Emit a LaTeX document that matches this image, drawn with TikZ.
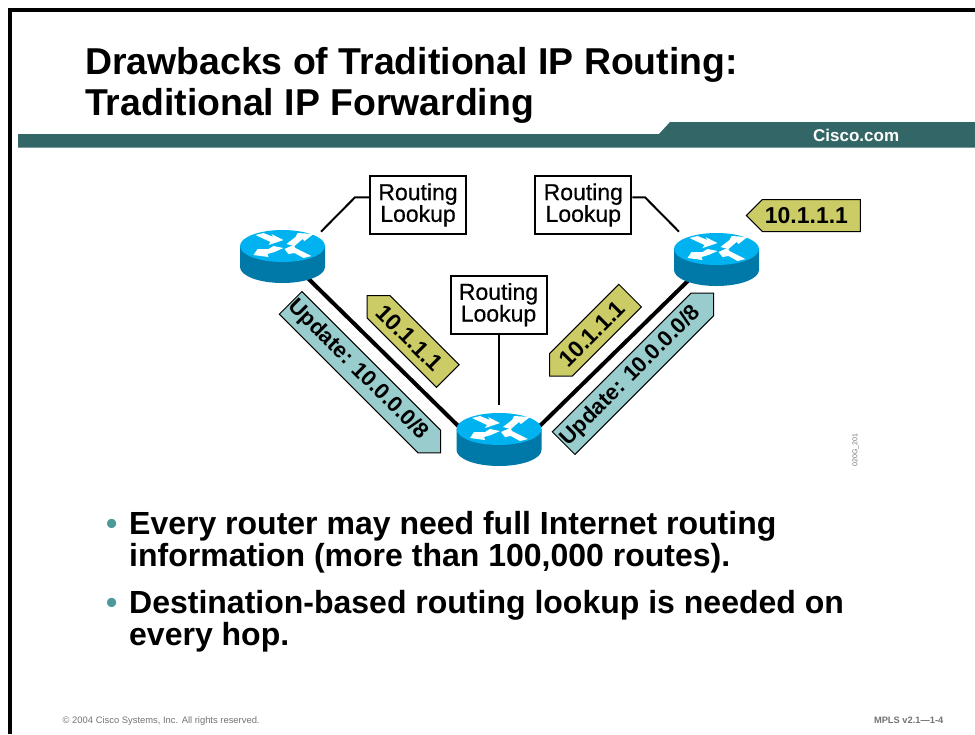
\documentclass[tikz,border=0pt]{standalone}
\usepackage{fontspec}
\setmainfont{Liberation Sans}
\newfontfamily\lookupfont{Liberation Sans}[FakeBold=0.5]
\usetikzlibrary{shapes.geometric,
shapes.symbols,
positioning}
\definecolor{barteal}{HTML}{336666}
\definecolor{bulletteal}{HTML}{4D9999}
\definecolor{routertop}{HTML}{00B2F0}
\definecolor{routerside}{HTML}{0079A8}
\definecolor{tagolive}{HTML}{CCCC66}
\definecolor{tagaqua}{HTML}{99CCCC}
\tikzset{
  % the body of a router, only used to hook the lines on
  routerbody/.style={ellipse,minimum width=85pt,minimum height=54pt,inner sep=0pt},
  lookupbox/.style={draw,line width=2pt,fill=white,minimum width=96pt,minimum height=58pt,
    inner sep=0pt,align=center,font=\fontsize{23}{21.7}\selectfont\lookupfont},
  linkline/.style={line width=4pt},
  stemline/.style={line width=2pt},
  packettag/.style={signal,draw,line width=1pt,signal pointer angle=90,inner sep=0pt,
    minimum height=32pt,font=\fontsize{23}{23}\selectfont\bfseries},
  % the trailing space moves the text along the tag
  addrtag/.style={packettag,fill=tagolive,minimum width=114pt,execute at end node={\hspace*{10pt}}},
  updatetag/.style={packettag,fill=tagaqua,minimum width=212pt,execute at end node={\hspace*{6pt}},
    font=\fontsize{22}{22}\selectfont\bfseries},
  titletext/.style={anchor=base west,inner sep=0pt,font=\fontsize{37.4}{37.4}\selectfont\bfseries},
  bullettext/.style={anchor=base west,inner sep=0pt,font=\fontsize{32}{32}\selectfont\bfseries},
  bulletdot/.style={bullettext,text=bulletteal},
  smalltext/.style={text=black!55,inner sep=0pt,font=\fontsize{9.4}{9.4}\selectfont},
  routerpic/.pic={
    \fill[routerside] (-42.5,0) -- (-42.5,21) arc[x radius=42.5,y radius=16,start angle=180,end angle=0]
      -- (42.5,0) -- cycle;
    \fill[routertop] (0,0) ellipse[x radius=42.5,y radius=16];
    \fill[white] (-27,-11) -- (-19,-13) -- (-9,-9) -- (-11,-12) -- (1,-6) -- (-14,-1) -- (-12,-4) -- cycle;
    \fill[white] (4,-2) -- (13,-9) -- (15,-13) -- (31,-12) -- (22,-5) -- (20,-7) -- (12,0) -- cycle;
    \fill[white] (1,2) -- (-9,0) -- (-14,3) -- (-25,3) -- (-29,9) -- (-14,11) -- (-15,8) -- (-8,6) -- cycle;
    \fill[white] (29,10) -- (21,12) -- (12,7) -- (6,8) -- (2,3) -- (11,-1) -- (13,2) -- cycle;
  },
}
\begin{document}
\begin{tikzpicture}[x=1pt,y=-1pt]
  \useasboundingbox (0,0) rectangle (975,734);
  % slide frame and header bar
  \fill[black] (8,8) rectangle (12,734);
  \fill[black] (8,8) rectangle (975,12);
  \fill[barteal] (18,134) -- (659,134) -- (670,122) -- (975,122) -- (975,147.5) -- (18,147.5) -- cycle;
  \node[titletext] (titleA) at (85,74) {Drawbacks of Traditional IP Routing:};
  \node[titletext] (titleB) at (85,115) {Traditional IP Forwarding};
  \node[anchor=base west,inner sep=0pt,text=white,font=\fontsize{17}{17}\selectfont\bfseries] (cisco) at (813,141.5) {Cisco.com};

  \node[routerbody] (rtA) at (282.5,257) {};
  \node[routerbody] (rtB) at (499,440) {};
  \node[routerbody] (rtC) at (716.5,260) {};
  \node[lookupbox] (lookA) at (418,205) {Routing\\Lookup};
  \node[lookupbox] (lookB) at (498.5,304.7) {Routing\\Lookup};
  \node[lookupbox] (lookC) at (583.3,205) {Routing\\Lookup};
  \coordinate (bendA) at (355,197.3);
  \coordinate (bendC) at (645,197.3);

  \draw[linkline] (rtA.-40) -- (rtB.163);
  \draw[linkline] (rtB.17) -- (rtC.216);
  \draw[stemline] (lookA.west |- bendA) -- (bendA) -- (321,231.7);
  \draw[stemline] (lookC.east |- bendC) -- (bendC) -- (679,231.7);
  \draw[stemline] (lookB.south) -- ++(0,70);

  \pic at (282.5,246) {routerpic};
  \pic at (499,429) {routerpic};
  \pic at (716.5,249) {routerpic};

  \node[updatetag,signal to=east,rotate=-45,anchor=east] (updA) at (441,453.3) {Update: 10.0.0.0/8};
  \node[updatetag,signal to=east,rotate=45,anchor=east] (updC) at (714,292.7) {Update: 10.0.0.0/8};
  \node[addrtag,signal to=west,rotate=-45,anchor=west] (tagA) at (366.7,295) {10.1.1.1};
  \node[addrtag,signal to=west,rotate=45,anchor=west] (tagB) at (549,376.7) {10.1.1.1};
  \node[addrtag,signal to=west,anchor=west] (tagC) at (745.7,215.5) {10.1.1.1};
  \node[smalltext,rotate=90,font=\fontsize{7}{7}\selectfont] (figid) at (855.5,450) {020G\_201};

  \node[bulletdot] (dotA) at (106,534) {•};
  \node[bullettext] (itemA) at (129,534) {Every router may need full Internet routing};
  \node[bullettext] (itemAb) at (129,566) {information (more than 100,000 routes).};
  \node[bulletdot] (dotB) at (106,613) {•};
  \node[bullettext] (itemB) at (129,613) {Destination-based routing lookup is needed on};
  \node[bullettext] (itemBb) at (129,645) {every hop.};

  \node[smalltext,anchor=base west] (copy) at (62.5,723.5) {© 2004 Cisco Systems, Inc. All rights reserved.};
  \node[smalltext,anchor=base east,font=\fontsize{9.3}{9.3}\selectfont\bfseries] (course) at (943.5,723.5) {MPLS v2.1—1-4};
\end{tikzpicture}
\end{document}
